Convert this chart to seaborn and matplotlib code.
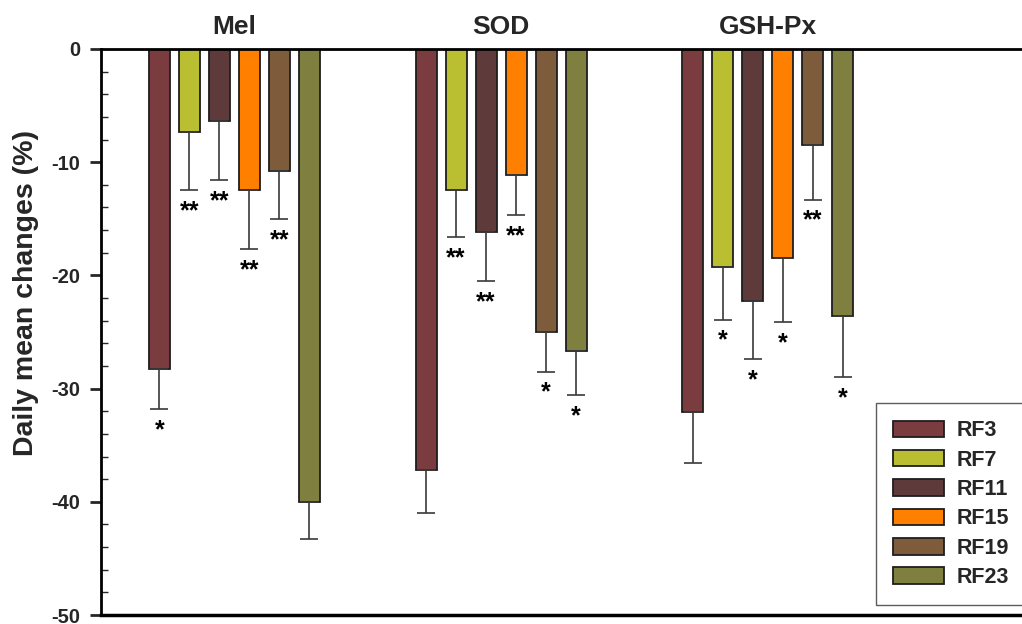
import matplotlib
matplotlib.use("Agg")
import matplotlib.pyplot as plt
from matplotlib.ticker import MultipleLocator
import seaborn as sns
import pandas as pd

groups = ["Mel", "SOD", "GSH-Px"]
series = ["RF3", "RF7", "RF11", "RF15", "RF19", "RF23"]
colors = ["#7b3c3f", "#b9bf30", "#5f3a3a", "#ff8000", "#7e5b3b", "#7f8040"]

# mean change per series, one value per group (Mel, SOD, GSH-Px)
means = {
    "RF3":  [-28.3, -37.2, -32.1],
    "RF7":  [-7.3, -12.5, -19.3],
    "RF11": [-6.4, -16.2, -22.3],
    "RF15": [-12.5, -11.1, -18.5],
    "RF19": [-10.8, -25.0, -8.5],
    "RF23": [-40.0, -26.7, -23.6],
}
errors = {
    "RF3":  [3.5, 3.8, 4.5],
    "RF7":  [5.2, 4.1, 4.6],
    "RF11": [5.2, 4.3, 5.1],
    "RF15": [5.2, 3.6, 5.6],
    "RF19": [4.2, 3.5, 4.8],
    "RF23": [3.3, 3.9, 5.4],
}
stars = {
    "RF3":  ["*", "", ""],
    "RF7":  ["**", "**", "*"],
    "RF11": ["**", "**", "*"],
    "RF15": ["**", "**", "*"],
    "RF19": ["**", "*", "**"],
    "RF23": ["", "*", "*"],
}

rows = []
for s in series:
    for g, v in zip(groups, means[s]):
        rows.append({"group": g, "series": s, "value": v})
df = pd.DataFrame(rows)

sns.set_style("ticks")
plt.rcParams["font.family"] = ["Liberation Sans", "DejaVu Sans"]
plt.rcParams["font.weight"] = "bold"
plt.rcParams["axes.unicode_minus"] = False

fig = plt.figure(figsize=(10.22, 6.24), dpi=100)
ax = fig.add_axes([0.0988, 0.0144, 0.9012, 0.9071])

sns.barplot(data=df, x="group", y="value", hue="series", order=groups,
            hue_order=series, palette=colors, width=0.675, gap=0.3,
            edgecolor="#1e1e1e", linewidth=1.3, saturation=1, legend=False, ax=ax)

for i, s in enumerate(series):
    cont = ax.containers[i]
    xs = [b.get_x() + b.get_width() / 2 for b in cont]
    ys = means[s]
    ax.errorbar(xs, ys, yerr=[errors[s], [0] * len(ys)], fmt="none",
                ecolor="#3a3a3a", elinewidth=1.2, capsize=6.5, capthick=1.2, zorder=1)
    for x, y, e, st in zip(xs, ys, errors[s], stars[s]):
        if st:
            ax.text(x, y - e - 0.8, st, ha="center", va="top", fontsize=18,
                    fontweight="bold", color="black")

ax.set_ylim(-50, 0)
ax.set_xlim(-0.5, 2.953)
ax.yaxis.set_major_locator(MultipleLocator(10))
ax.yaxis.set_minor_locator(MultipleLocator(2))
ax.tick_params(axis="y", which="major", direction="out", length=8, width=2,
               labelsize=14.5, pad=7)
ax.tick_params(axis="y", which="minor", direction="in", length=5, width=1)
ax.tick_params(axis="x", which="both", bottom=False, labelbottom=False)
for lbl in ax.get_yticklabels():
    lbl.set_fontweight("bold")

for side in ["left", "top", "bottom"]:
    ax.spines[side].set_visible(True)
    ax.spines[side].set_color("black")
ax.spines["left"].set_linewidth(2)
ax.spines["top"].set_linewidth(2)
ax.spines["bottom"].set_linewidth(2.5)
ax.spines["right"].set_visible(False)

ax.set_xlabel("")
ax.set_ylabel("Daily mean changes (%)", fontsize=20.5, fontweight="bold")
ax.yaxis.set_label_coords(-0.067, 0.569)

for i, g in enumerate(groups):
    ax.text(i, 1.039, g, transform=ax.get_xaxis_transform(), ha="center",
            va="center", fontsize=19, fontweight="bold")

leg = ax.legend(ax.containers[:len(series)], series, loc="upper left",
                bbox_to_anchor=(876 / 1022, 1 - 403 / 624), bbox_transform=fig.transFigure,
                fontsize=15.5, frameon=True, fancybox=False, handlelength=2.37,
                handleheight=0.8, labelspacing=0.39, borderpad=0.8, handletextpad=0.56,
                borderaxespad=0)
leg.get_frame().set_edgecolor("#333333")
leg.get_frame().set_linewidth(1.0)
for t in leg.get_texts():
    t.set_fontweight("bold")

fig.savefig("out.png", dpi=100)
